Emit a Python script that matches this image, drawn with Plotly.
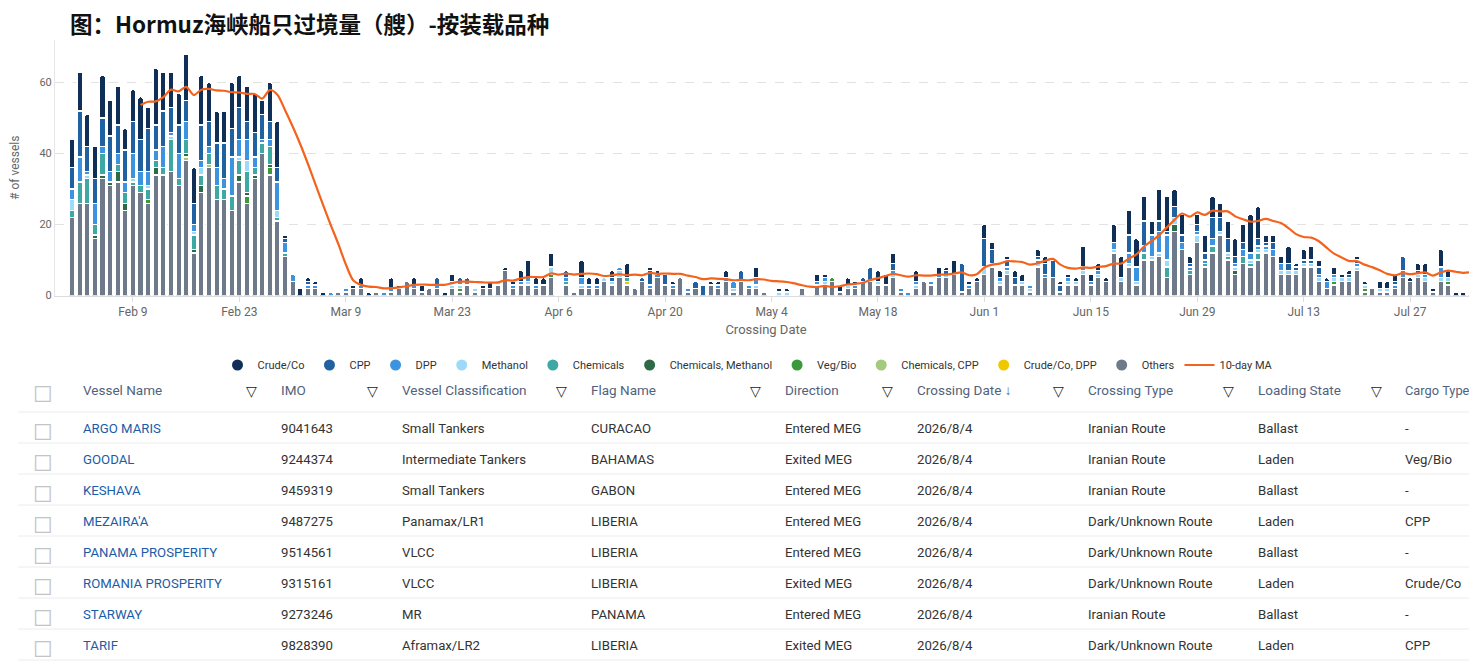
import pandas as pd
import plotly.graph_objects as go

# ---- daily crossings by cargo, 2026-02-01 .. 2026-08-04 ----
dates = pd.date_range("2026-02-01", "2026-08-04", freq="D")

others = [
    22, 26, 26, 16, 33, 31, 32, 24, 31, 29, 26, 34, 34, 35, 31, 38, 12, 29, 36, 27, 27, 24, 32, 26, 33, 40, 34, 21,  # Feb
    11, 4, 0, 2, 2, 0, 0, 1, 1, 2, 2, 0, 1, 0, 1, 2, 4, 2, 1, 2, 2, 0, 2, 1, 3, 1, 2, 2, 3, 7, 2,  # Mar
    3, 3, 2, 3, 5, 0, 3, 1, 2, 2, 2, 4, 3, 5, 3, 2, 4, 2, 5, 3, 2, 5, 1, 2, 0, 3, 2, 4, 1, 4,  # Apr
    2, 2, 1, 0, 0, 0, 0, 2, 0, 3, 3, 4, 1, 2, 2, 4, 4, 3, 3, 5, 1, 0, 2, 4, 3, 5, 5, 6, 1, 2, 4,  # May
    6, 8, 3, 6, 3, 3, 1, 8, 5, 5, 1, 3, 3, 6, 3, 5, 4, 12, 4, 8, 3, 10, 10, 11, 5, 18, 13, 6, 15, 8,  # Jun
    12, 17, 10, 6, 9, 8, 10, 12, 11, 6, 6, 6, 8, 8, 4, 2, 3, 4, 4, 7, 1, 2, 1, 1, 2, 5, 4, 5, 4, 1, 4,  # Jul
    3, 0, 0, 4,  # Aug
]
crude = [
    8, 11, 9, 9, 12, 10, 11, 6, 9, 12, 6, 16, 11, 10, 9, 13, 10, 14, 11, 9, 9, 13, 9, 10, 11, 4, 11, 13,
    1, 0, 2, 1, 1, 1, 0, 0, 0, 1, 2, 1, 0, 0, 3, 1, 0, 2, 2, 0, 0, 1, 2, 0, 0, 0, 1, 2, 0, 1, 1,
    3, 5, 2, 2, 4, 0, 0, 0, 5, 2, 2, 0, 2, 0, 4, 0, 0, 1, 1, 0, 1, 0, 0, 0, 0, 1, 1, 2, 0, 0,
    0, 3, 0, 0, 1, 1, 0, 0, 0, 2, 1, 0, 2, 2, 1, 0, 0, 3, 3, 3, 0, 0, 3, 0, 0, 2, 1, 4, 0, 1, 1,
    4, 2, 2, 1, 2, 2, 0, 2, 2, 0, 1, 1, 1, 6, 2, 2, 1, 5, 6, 7, 8, 7, 4, 9, 10, 5, 6, 2, 3, 5,
    6, 4, 5, 5, 5, 11, 9, 2, 2, 2, 5, 1, 3, 4, 2, 1, 2, 1, 1, 1, 1, 0, 2, 2, 2, 0, 1, 2, 3, 1, 5,
    2, 1, 1, 2,
]
cpp = [
    6, 13, 7, 7, 8, 10, 8, 9, 9, 9, 12, 7, 10, 7, 8, 6, 6, 10, 7, 7, 10, 8, 9, 5, 7, 7, 5, 4,
    1, 0, 0, 1, 0, 0, 0, 0, 0, 0, 0, 0, 0, 0, 0, 0, 0, 0, 0, 0, 2, 0, 0, 1, 1, 0, 0, 0, 0, 0, 0,
    0, 0, 0, 0, 0, 0, 2, 0, 0, 0, 0, 0, 1, 0, 0, 0, 1, 4, 0, 3, 0, 0, 0, 2, 3, 0, 0, 0, 0, 3,
    0, 0, 0, 0, 0, 0, 0, 0, 0, 0, 0, 0, 0, 0, 0, 1, 4, 0, 0, 2, 0, 0, 0, 0, 0, 0, 1, 0, 8, 0, 0,
    8, 4, 0, 2, 2, 0, 0, 1, 3, 5, 2, 0, 0, 0, 0, 0, 0, 0, 0, 5, 0, 7, 0, 3, 1, 3, 2, 1, 2, 2,
    6, 4, 4, 2, 2, 0, 2, 1, 2, 0, 2, 1, 1, 1, 2, 0, 0, 0, 1, 1, 0, 0, 0, 0, 1, 4, 0, 1, 0, 0, 0,
    0, 0, 0, 0,
]
dpp = [
    3, 7, 1, 6, 2, 3, 3, 3, 7, 4, 4, 3, 6, 1, 7, 5, 2, 2, 2, 5, 3, 11, 5, 6, 3, 1, 2, 8,
    3, 2, 0, 1, 1, 0, 1, 0, 1, 0, 1, 0, 0, 1, 1, 0, 0, 1, 0, 0, 1, 0, 1, 1, 1, 0, 0, 0, 0, 0, 1,
    1, 1, 1, 0, 0, 0, 1, 0, 2, 1, 1, 0, 0, 1, 0, 0, 0, 1, 1, 0, 1, 0, 1, 0, 0, 0, 1, 1, 2, 0,
    1, 2, 0, 0, 0, 0, 0, 0, 0, 1, 1, 0, 0, 0, 1, 0, 0, 0, 0, 1, 1, 1, 1, 0, 1, 1, 0, 0, 0, 1, 0,
    0, 0, 1, 1, 0, 0, 1, 1, 1, 0, 0, 1, 0, 1, 1, 1, 0, 2, 0, 3, 4, 2, 6, 6, 7, 0, 2, 1, 1, 1,
    2, 0, 0, 1, 2, 2, 1, 1, 2, 2, 0, 0, 0, 0, 1, 2, 1, 0, 0, 1, 0, 0, 0, 0, 1, 2, 0, 0, 1, 0, 3,
    0, 0, 0, 0,
]
methanol = [
    3, 0, 1, 0, 0, 0, 0, 0, 1, 0, 1, 0, 0, 1, 0, 0, 1, 2, 0, 0, 0, 0, 1, 3, 0, 0, 0, 2,
    0, 0, 0, 0, 0, 0, 0, 0, 0, 0, 0, 0, 0, 0, 0, 0, 0, 0, 0, 0, 0, 0, 1, 1, 0, 1, 0, 0, 1, 0, 0,
    0, 1, 0, 0, 2, 0, 0, 0, 1, 0, 0, 1, 1, 2, 0, 0, 0, 0, 0, 0, 0, 0, 0, 0, 0, 0, 0, 0, 1, 0,
    0, 1, 0, 0, 1, 1, 0, 0, 0, 0, 1, 0, 0, 1, 0, 0, 0, 1, 0, 1, 0, 0, 1, 0, 0, 0, 1, 0, 0, 0, 0,
    2, 1, 1, 1, 0, 1, 1, 1, 0, 0, 0, 1, 1, 1, 0, 1, 0, 1, 1, 1, 1, 0, 1, 1, 2, 2, 0, 0, 2, 0,
    0, 1, 1, 1, 0, 1, 1, 1, 0, 1, 1, 1, 1, 1, 1, 0, 1, 1, 1, 1, 1, 0, 1, 1, 0, 0, 0, 1, 1, 0, 1,
    1, 0, 0, 1,
]
# smaller cargo groups, only the days on which they appear
chemicals = {
    "02-01": 2, "02-02": 6, "02-03": 7, "02-04": 3, "02-05": 6, "02-07": 2, "02-08": 3,
    "02-09": 1, "02-10": 2, "02-11": 3, "02-12": 2, "02-13": 2, "02-14": 9, "02-15": 2,
    "02-16": 4, "02-17": 4, "02-18": 3, "02-19": 3, "02-20": 4, "02-21": 3, "02-22": 4,
    "02-23": 4, "02-24": 6, "02-25": 2, "02-26": 3, "02-27": 5, "02-28": 1, "03-01": 1,
    "04-07": 1, "04-15": 1, "06-22": 2, "06-25": 3, "06-28": 1, "06-30": 1,
    "07-01": 2, "07-03": 1, "07-05": 2, "07-06": 1, "07-07": 2,
}
chem_methanol = {
    "02-04": 1, "02-05": 1, "02-06": 1, "02-07": 3, "02-08": 2, "02-12": 2, "02-16": 1,
    "02-17": 1, "02-18": 2, "02-23": 2, "02-24": 1, "02-25": 1, "02-27": 1, "06-26": 2,
    "07-04": 1,
}
veg_bio = {
    "02-11": 1, "02-24": 2, "02-27": 2, "03-24": 1, "04-05": 1, "05-12": 1,
    "07-17": 1, "07-21": 1, "08-01": 1, "08-04": 1,
}
chem_cpp = {"02-16": 1, "02-19": 1}
crude_dpp = {"04-15": 1}


def daily(d):
    s = pd.Series(0, index=dates)
    for k, v in d.items():
        s[pd.Timestamp("2026-" + k)] = v
    return s.tolist()


# bottom -> top of the stack
series = [
    ("Others", others, "#6e7a89"),
    ("Crude/Co, DPP", daily(crude_dpp), "#f0c800"),
    ("Chemicals, CPP", daily(chem_cpp), "#a2cb7c"),
    ("Veg/Bio", daily(veg_bio), "#3a9a3a"),
    ("Chemicals, Methanol", daily(chem_methanol), "#2d6a46"),
    ("Chemicals", daily(chemicals), "#3ea9a3"),
    ("Methanol", methanol, "#9dd9f8"),
    ("DPP", dpp, "#3c94e0"),
    ("CPP", cpp, "#2062a1"),
    ("Crude/Co", crude, "#0f2f57"),
]

total = pd.Series(0, index=dates)
for _, vals, _ in series:
    total = total + pd.Series(vals, index=dates)
ma10 = total.rolling(10).mean()

# vessel table
vessel_names = ["ARGO MARIS", "GOODAL", "KESHAVA", "MEZAIRA'A", "PANAMA PROSPERITY",
                "ROMANIA PROSPERITY", "STARWAY", "TARIF"]
imo = ["9041643", "9244374", "9459319", "9487275", "9514561", "9315161", "9273246", "9828390"]
vessel_class = ["Small Tankers", "Intermediate Tankers", "Small Tankers", "Panamax/LR1",
                "VLCC", "VLCC", "MR", "Aframax/LR2"]
flag_name = ["CURACAO", "BAHAMAS", "GABON", "LIBERIA", "LIBERIA", "LIBERIA", "PANAMA", "LIBERIA"]
direction = ["Entered MEG", "Exited MEG", "Entered MEG", "Entered MEG", "Entered MEG",
             "Exited MEG", "Entered MEG", "Exited MEG"]
crossing_date = ["2026/8/4", "2026/8/4", "2026/8/4", "2026/8/4", "2026/8/4", "2026/8/4",
                 "2026/8/4", "2026/8/4"]
crossing_type = ["Iranian Route", "Iranian Route", "Iranian Route", "Dark/Unknown Route",
                 "Dark/Unknown Route", "Dark/Unknown Route", "Iranian Route", "Dark/Unknown Route"]
loading_state = ["Ballast", "Laden", "Ballast", "Laden", "Ballast", "Laden", "Ballast", "Laden"]
cargo_type = ["-", "Veg/Bio", "-", "CPP", "-", "Crude/Co", "-", "CPP"]

# the page body adds an 8px margin, so the figure is 8px smaller and shifted
OX, OY = 8, 8
W, H = 1477 - OX, 668 - OY


def px(x):
    return (x - OX) / W


def py(y):
    return 1 - (y - OY) / H


def nb(s):
    # keep table texts on one line
    return s.replace(" ", "\u00a0")


fig = go.Figure()

legend_order = ["Crude/Co", "CPP", "DPP", "Methanol", "Chemicals", "Chemicals, Methanol",
                "Veg/Bio", "Chemicals, CPP", "Crude/Co, DPP", "Others"]
for name, vals, color in series:
    fig.add_trace(go.Bar(
        x=dates, y=[v if v else None for v in vals], name=name,
        marker=dict(color=color, line=dict(color="white", width=1.4)),
        showlegend=False, hoverinfo="skip",
    ))
    # round legend symbols
    fig.add_trace(go.Scatter(
        x=[None], y=[None], mode="markers", name=name,
        marker=dict(symbol="circle", size=11, color=color),
        legendrank=legend_order.index(name) + 1,
    ))

fig.add_trace(go.Scatter(
    x=dates, y=ma10, mode="lines", name="10-day MA",
    line=dict(color="#f4621c", width=2.2, shape="spline", smoothing=0.8),
    legendrank=50, hoverinfo="skip",
))

filt = "▽"
header = ["☐", "Vessel Name", filt, "IMO", filt, "Vessel Classification", filt, "Flag Name", filt,
          "Direction", filt, "Crossing Date ↓", filt, "Crossing Type", filt, "Loading State", filt,
          "Cargo Type"]
header = [nb(h) for h in header]
blank = [""] * len(vessel_names)
cells = [["☐"] * len(vessel_names), vessel_names, blank, imo, blank, vessel_class, blank,
         flag_name, blank, direction, blank, crossing_date, blank, crossing_type, blank,
         loading_state, blank, cargo_type]
cells = [[nb(v) for v in col] for col in cells]
col_w = [50, 163, 35, 86, 35, 154, 35, 159, 35, 97, 35, 136, 35, 135, 35, 113, 34, 80]

head_col = ["#c4c4c4"] + ["#52627c" if i % 2 else "#222222" for i in range(1, len(header))]
head_size = [22] + [13.5 if i % 2 else 14 for i in range(1, len(header))]
head_size[-1] = 12.8
cell_col = ["#c4c4c4", "#1b5ca8"] + ["#333333"] * (len(header) - 2)
cell_size = [22] + [13.2] * (len(header) - 1)

table_top = 377
head_h = 38
row_h = 31
sep_top = 412   # first separator line under the header

fig.add_trace(go.Table(
    domain=dict(x=[px(25), 1], y=[0, py(table_top)]),
    columnwidth=col_w,
    header=dict(values=header, align="left", height=head_h,
                fill_color="rgba(0,0,0,0)", line=dict(color="rgba(0,0,0,0)", width=0),
                font=dict(family="Roboto", size=head_size, color=head_col)),
    cells=dict(values=cells, align="left", height=row_h,
               fill_color="rgba(0,0,0,0)", line=dict(color="rgba(0,0,0,0)", width=0),
               font=dict(family="Roboto", size=cell_size, color=cell_col)),
))

# row separators of the table
for k in range(len(vessel_names) + 1):
    yy = py(sep_top + k * row_h)
    fig.add_shape(type="line", xref="paper", yref="paper", x0=px(18), x1=1, y0=yy, y1=yy,
                  line=dict(color="#ececec", width=1))

fig.update_layout(
    width=W, height=H,
    margin=dict(l=0, r=0, t=0, b=0),
    paper_bgcolor="white", plot_bgcolor="white",
    barmode="stack", bargap=0.28, barcornerradius=2,
    font=dict(family="Roboto, sans-serif", color="#666666"),
    legend=dict(orientation="h", traceorder="normal", x=px(748), xanchor="center",
                y=py(365), yanchor="middle",
                font=dict(size=11, color="#333333"), itemclick=False, itemdoubleclick=False,
                tracegroupgap=0),
    xaxis=dict(
        domain=[px(55), 1], type="date",
        range=["2026-01-29 18:00", "2026-08-04 19:00"],
        tick0="2026-02-09", dtick=14 * 86400000, tickformat="%b %-d",
        showgrid=False, showline=True, linecolor="#dddddd",
        ticks="outside", ticklen=5, tickcolor="#dddddd",
        tickfont=dict(size=12, color="#666666"),
        title=dict(text="Crossing Date", font=dict(size=13, color="#666666"), standoff=6),
        automargin=False,
    ),
    yaxis=dict(
        domain=[py(295.5), py(40)], range=[0, 72],
        tickvals=[0, 20, 40, 60], showgrid=True, gridcolor="#e2e2e2", griddash="dash",
        zeroline=False, showline=True, linecolor="#e6e6e6",
        tickfont=dict(size=11, color="#666666"),
        title=dict(text="# of vessels", font=dict(size=12, color="#666666"), standoff=28),
        automargin=False,
    ),
    annotations=[dict(
        text="<b>图：Hormuz海峡船只过境量（艘）-按装载品种</b>",
        xref="paper", yref="paper", x=px(68), y=py(23), xanchor="left", yanchor="middle",
        showarrow=False, font=dict(family="Noto Sans CJK SC", size=22.5, color="#111111"),
    )],
)

fig.write_html("out.html")
